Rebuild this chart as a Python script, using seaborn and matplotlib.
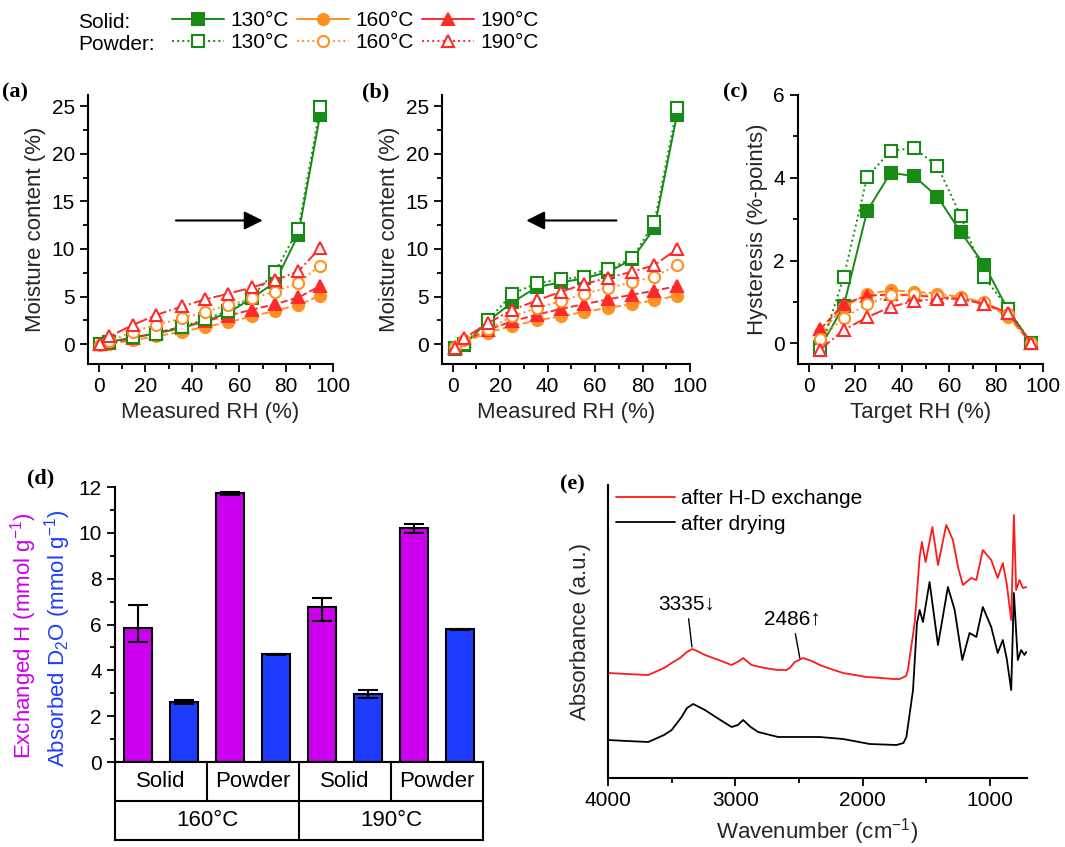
import matplotlib
matplotlib.use('Agg')
import matplotlib.pyplot as plt
from matplotlib.lines import Line2D
from matplotlib.ticker import MultipleLocator
import pandas as pd
import seaborn as sns

# (a) adsorption, measured RH (%) and moisture content (%)
rh_ads = [0.6, 4.6, 14.6, 24.5, 35.5, 45.5, 55.4, 65.3, 75.3, 85.2, 94.5]
ads_solid_130 = [0.0, 0.2, 0.7, 1.1, 1.7, 2.4, 3.3, 4.8, 6.5, 11.5, 24.1]
ads_solid_160 = [0.0, 0.0, 0.4, 0.8, 1.3, 1.8, 2.3, 2.9, 3.5, 4.1, 5.1]
ads_solid_190 = [0.0, 0.1, 0.6, 1.2, 1.8, 2.4, 3.0, 3.6, 4.2, 4.9, 6.1]
ads_powder_130 = [0.0, 0.2, 0.7, 1.1, 1.8, 2.6, 3.5, 5.0, 7.6, 12.1, 24.9]
ads_powder_160 = [-0.1, 0.3, 1.3, 2.0, 2.7, 3.4, 4.1, 4.8, 5.5, 6.45, 8.25]
ads_powder_190 = [0.0, 0.8, 2.0, 3.05, 3.95, 4.7, 5.3, 5.95, 6.7, 7.65, 10.1]

# (b) desorption
rh_des = [0.8, 4.8, 14.8, 25.2, 35.6, 45.6, 55.5, 65.6, 75.6, 85.0, 94.5]
des_solid_130 = [-0.5, -0.1, 2.4, 4.4, 6.0, 6.5, 6.9, 7.6, 8.9, 12.2, 24.1]
des_solid_160 = [-0.3, 0.2, 1.2, 1.9, 2.5, 2.9, 3.4, 3.8, 4.2, 4.6, 5.1]
des_solid_190 = [-0.3, 0.3, 1.5, 2.4, 3.1, 3.7, 4.2, 4.7, 5.2, 5.6, 6.1]
des_powder_130 = [-0.4, 0.0, 2.5, 5.3, 6.4, 6.8, 7.1, 7.9, 9.0, 12.8, 24.8]
des_powder_160 = [-0.3, 0.4, 1.6, 2.9, 3.8, 4.5, 5.3, 5.9, 6.5, 7.1, 8.3]
des_powder_190 = [-0.4, 0.6, 2.2, 3.6, 4.6, 5.5, 6.3, 7.0, 7.6, 8.3, 10.0]

# (c) hysteresis vs target RH
rh_target = [5, 15, 25, 35, 45, 55, 65, 75, 85, 95]
hys_solid_130 = [-0.1, 0.9, 3.2, 4.12, 4.04, 3.54, 2.68, 1.89, 0.82, 0.0]
hys_solid_160 = [0.25, 0.88, 1.19, 1.28, 1.25, 1.2, 1.12, 0.98, 0.64, 0.0]
hys_solid_190 = [0.34, 0.95, 1.15, 1.18, 1.16, 1.12, 1.07, 0.95, 0.75, 0.0]
hys_powder_130 = [-0.17, 1.6, 4.02, 4.65, 4.72, 4.28, 3.07, 1.6, 0.84, 0.0]
hys_powder_160 = [0.11, 0.62, 0.94, 1.16, 1.2, 1.15, 1.1, 1.0, 0.7, 0.0]
hys_powder_190 = [-0.15, 0.32, 0.63, 0.88, 1.02, 1.07, 1.08, 0.95, 0.74, 0.0]

# (d) H-D exchange
forms = ['Solid', 'Powder', 'Solid', 'Powder']
temps = ['160°C', '160°C', '190°C', '190°C']
exchanged_h = [5.86, 11.72, 6.75, 10.2]
exchanged_h_err_lo = [0.64, 0.05, 0.59, 0.2]
exchanged_h_err_hi = [1.0, 0.05, 0.42, 0.17]
absorbed_d2o = [2.62, 4.7, 2.97, 5.8]
absorbed_d2o_err = [0.08, 0.02, 0.16, 0.02]

# (e) FTIR spectra (arbitrary units)
wn_red = [4000, 3850, 3684, 3560, 3500, 3435, 3380, 3339, 3300, 3239, 3130, 3030, 2970, 2939,
          2873, 2808, 2720, 2664, 2600, 2573, 2533, 2468, 2400, 2337, 2250, 2154, 2060, 1971,
          1850, 1760, 1710, 1660, 1645, 1592, 1553, 1535, 1520, 1506, 1453, 1409, 1344, 1292,
          1250, 1213, 1148, 1108, 1057, 991, 940, 900, 870, 834, 813, 795, 769, 743, 715]
abs_red = [1.05, 1.04, 1.03, 1.10, 1.15, 1.20, 1.26, 1.29, 1.27, 1.23, 1.18, 1.13, 1.17, 1.20,
           1.13, 1.11, 1.09, 1.08, 1.08, 1.10, 1.16, 1.20, 1.17, 1.13, 1.09, 1.05, 1.03, 1.01,
           1.00, 0.99, 0.99, 1.02, 1.08, 1.55, 2.21, 2.36, 2.25, 2.16, 2.51, 2.13, 2.53, 2.38,
           2.10, 1.93, 2.00, 1.98, 2.28, 2.18, 2.00, 2.15, 1.95, 1.58, 2.63, 1.88, 1.98, 1.90, 1.91]
wn_black = [4000, 3850, 3684, 3560, 3500, 3422, 3380, 3331, 3239, 3130, 3030, 2980, 2939, 2880,
            2821, 2664, 2500, 2337, 2154, 1945, 1736, 1680, 1657, 1605, 1574, 1553, 1527, 1475,
            1409, 1331, 1278, 1218, 1161, 1108, 1057, 991, 940, 900, 870, 834, 813, 782, 756,
            730, 715]
abs_black = [0.38, 0.37, 0.36, 0.43, 0.48, 0.61, 0.70, 0.74, 0.68, 0.59, 0.51, 0.53, 0.58, 0.51,
             0.46, 0.41, 0.41, 0.41, 0.39, 0.34, 0.33, 0.35, 0.41, 0.88, 1.55, 1.68, 1.56, 1.96,
             1.33, 1.91, 1.68, 1.18, 1.45, 1.41, 1.71, 1.51, 1.25, 1.38, 1.20, 0.88, 1.85, 1.18,
             1.28, 1.23, 1.26]

green = '#178a17'
orange = '#ff9124'
red = '#ff2a2a'
magenta = '#cc00ee'
blue = '#1e3cff'

sns.set_theme(style='ticks')
plt.rcParams['font.family'] = ['Liberation Sans', 'DejaVu Sans']
plt.rcParams['mathtext.fontset'] = 'custom'
plt.rcParams['mathtext.rm'] = 'Liberation Sans'
plt.rcParams['mathtext.it'] = 'Liberation Sans:italic'
plt.rcParams['axes.linewidth'] = 1.5
plt.rcParams['axes.edgecolor'] = 'black'
plt.rcParams['text.color'] = 'black'
plt.rcParams['xtick.color'] = 'black'
plt.rcParams['ytick.color'] = 'black'

W, H = 1065, 847
fig = plt.figure(figsize=(W / 100, H / 100), dpi=100)


def px_axes(left, top, right, bottom):
    return fig.add_axes([left / W, 1 - bottom / H, (right - left) / W, (bottom - top) / H])


# style for each (form, temperature)
styles = {
    ('Solid', '130'): dict(color=green, marker='s', ls='-', filled=True),
    ('Solid', '160'): dict(color=orange, marker='o', ls='--', filled=True),
    ('Solid', '190'): dict(color=red, marker='^', ls='--', filled=True),
    ('Powder', '130'): dict(color=green, marker='s', ls=':', filled=False),
    ('Powder', '160'): dict(color=orange, marker='o', ls=':', filled=False),
    ('Powder', '190'): dict(color=red, marker='^', ls='-.', filled=False),
}


def draw_series(ax, x, y, key):
    st = styles[key]
    sns.lineplot(x=x, y=y, ax=ax, sort=False, legend=False, color=st['color'],
                 linestyle=st['ls'], linewidth=1.4, marker=st['marker'], markersize=8,
                 markerfacecolor=st['color'] if st['filled'] else 'white',
                 markeredgecolor=st['color'], markeredgewidth=1.5)


def style_axes(ax, xlim, ylim, xmaj, xmin, ymaj, ymin):
    ax.set_xlim(xlim)
    ax.set_ylim(ylim)
    ax.xaxis.set_major_locator(MultipleLocator(xmaj))
    ax.xaxis.set_minor_locator(MultipleLocator(xmin))
    ax.yaxis.set_major_locator(MultipleLocator(ymaj))
    ax.yaxis.set_minor_locator(MultipleLocator(ymin))
    ax.tick_params(which='major', direction='out', length=6, width=1.3, labelsize=15)
    ax.tick_params(which='minor', direction='out', length=3.5, width=1.3)
    sns.despine(ax=ax)


# panels a, b, c
ax_a = px_axes(88, 95, 333, 364)
ax_b = px_axes(442, 95, 690, 364)
ax_c = px_axes(798, 95, 1043, 364)

iso_a = {('Solid', '130'): ads_solid_130, ('Solid', '160'): ads_solid_160, ('Solid', '190'): ads_solid_190,
         ('Powder', '130'): ads_powder_130, ('Powder', '160'): ads_powder_160, ('Powder', '190'): ads_powder_190}
iso_b = {('Solid', '130'): des_solid_130, ('Solid', '160'): des_solid_160, ('Solid', '190'): des_solid_190,
         ('Powder', '130'): des_powder_130, ('Powder', '160'): des_powder_160, ('Powder', '190'): des_powder_190}
iso_c = {('Solid', '130'): hys_solid_130, ('Solid', '160'): hys_solid_160, ('Solid', '190'): hys_solid_190,
         ('Powder', '130'): hys_powder_130, ('Powder', '160'): hys_powder_160, ('Powder', '190'): hys_powder_190}

for key, y in iso_a.items():
    draw_series(ax_a, rh_ads, y, key)
for key, y in iso_b.items():
    draw_series(ax_b, rh_des, y, key)
for key, y in iso_c.items():
    draw_series(ax_c, rh_target, y, key)

for ax in (ax_a, ax_b):
    style_axes(ax, (-4.5, 100), (-2.1, 26.2), 20, 10, 5, 2.5)
    ax.set_xlabel('Measured RH (%)', fontsize=16)
    ax.set_ylabel('Moisture content (%)', fontsize=16)
style_axes(ax_c, (-4.5, 100), (-0.5, 6.0), 20, 10, 2, 1)
ax_c.set_xlabel('Target RH (%)', fontsize=16)
ax_c.set_ylabel('Hysteresis (%-points)', fontsize=16)

arrow = dict(arrowstyle='-|>', mutation_scale=28, color='black', lw=1.5, shrinkA=0, shrinkB=0)
ax_a.annotate('', xy=(70, 13), xytext=(33, 13), arrowprops=arrow)
ax_b.annotate('', xy=(31, 13), xytext=(69, 13), arrowprops=arrow)

# top legend
handles = []
labels = []
for temp in ['130', '160', '190']:
    for form in ['Solid', 'Powder']:
        st = styles[(form, temp)]
        handles.append(Line2D([], [], color=st['color'], ls='-' if form == 'Solid' else ':', lw=1.4,
                              marker=st['marker'], markersize=8, markeredgewidth=1.5,
                              markerfacecolor=st['color'] if form == 'Solid' else 'white',
                              markeredgecolor=st['color']))
        labels.append(temp + '°C')
fig.legend(handles, labels, ncol=3, loc='upper left', bbox_to_anchor=(172 / W, 1 - 11 / H),
           frameon=False, fontsize=15, handlelength=2.5, handletextpad=0.3, columnspacing=0.4,
           labelspacing=0.15, borderpad=0, borderaxespad=0)
fig.text(78 / W, 1 - 23 / H, 'Solid:', fontsize=15, va='center')
fig.text(78 / W, 1 - 45 / H, 'Powder:', fontsize=15, va='center')

# panel d: bars with category table underneath
ax_d = px_axes(115, 487, 483, 762)
bar_names, bar_vals, bar_cols, err_lo, err_hi = [], [], [], [], []
for i in range(len(forms)):
    bar_names += [f'H {i}', f'D2O {i}']
    bar_vals += [exchanged_h[i], absorbed_d2o[i]]
    bar_cols += [magenta, blue]
    err_lo += [exchanged_h_err_lo[i], absorbed_d2o_err[i]]
    err_hi += [exchanged_h_err_hi[i], absorbed_d2o_err[i]]
bars = pd.DataFrame({'bar': bar_names, 'value': bar_vals})
sns.barplot(data=bars, x='bar', y='value', hue='bar', palette=bar_cols, legend=False,
            width=0.63, edgecolor='black', linewidth=1.5, saturation=1, ax=ax_d)
bar_x = [p.get_x() + p.get_width() / 2 for p in ax_d.patches]
ax_d.errorbar(bar_x, bar_vals, yerr=[err_lo, err_hi], fmt='none', ecolor='black',
              elinewidth=1.5, capsize=7, capthick=1.5)
ax_d.set_xlim(-0.5, len(bar_names) - 0.5)
ax_d.set_ylim(0, 12)
ax_d.set_xticks([])
ax_d.set_xlabel('')
ax_d.set_ylabel('')
ax_d.yaxis.set_major_locator(MultipleLocator(2))
ax_d.yaxis.set_minor_locator(MultipleLocator(1))
ax_d.tick_params(which='major', direction='out', length=6, width=1.3, labelsize=15)
ax_d.tick_params(which='minor', direction='out', length=3.5, width=1.3)
sns.despine(ax=ax_d)
fig.text(24 / W, 1 - 636 / H, 'Exchanged H (mmol g$^{-1}$)', color=magenta, fontsize=16,
         rotation=90, ha='center', va='center')
fig.text(58 / W, 1 - 638 / H, 'Absorbed D$_2$O (mmol g$^{-1}$)', color=blue, fontsize=16,
         rotation=90, ha='center', va='center')

tab = px_axes(115, 762, 483, 840)
tab.set_xlim(ax_d.get_xlim())
tab.set_ylim(0, 2)
tab.set_xticks([])
tab.set_yticks([])
for s in tab.spines.values():
    s.set_linewidth(1.5)
    s.set_color('black')
tab.axhline(1, color='black', lw=1.5)
pair_centers = [(bar_x[2 * i] + bar_x[2 * i + 1]) / 2 for i in range(len(forms))]
tab.vlines([1.5, 5.5], 1, 2, color='black', lw=1.5)
tab.vlines([3.5], 0, 2, color='black', lw=1.5)
for cx, f in zip(pair_centers, forms):
    tab.text(cx, 1.5, f, ha='center', va='center', fontsize=16)
for t in sorted(set(temps)):
    idx = [i for i, tt in enumerate(temps) if tt == t]
    tab.text(sum(pair_centers[i] for i in idx) / len(idx), 0.5, t, ha='center', va='center', fontsize=16)

# panel e: spectra
ax_e = px_axes(608, 485, 1027, 778)
sns.lineplot(x=wn_red, y=abs_red, sort=False, estimator=None, color='#ff1a1a', lw=1.3,
             label='after H-D exchange', ax=ax_e)
sns.lineplot(x=wn_black, y=abs_black, sort=False, estimator=None, color='black', lw=1.3,
             label='after drying', ax=ax_e)
ax_e.set_xlim(4000, 710)
ax_e.set_ylim(0, 2.93)
ax_e.set_yticks([])
ax_e.xaxis.set_major_locator(MultipleLocator(1000))
ax_e.xaxis.set_minor_locator(MultipleLocator(500))
ax_e.tick_params(which='major', direction='out', length=6, width=1.3, labelsize=15)
ax_e.tick_params(which='minor', direction='out', length=3.5, width=1.3)
sns.despine(ax=ax_e)
ax_e.set_xlabel('Wavenumber (cm$^{-1}$)', fontsize=16)
ax_e.set_ylabel('Absorbance (a.u.)', fontsize=16, labelpad=12)
ax_e.legend(loc='upper left', bbox_to_anchor=(0.02, 0.985), frameon=False, fontsize=15,
            handlelength=2.8, handletextpad=0.3, labelspacing=0.3, borderpad=0, borderaxespad=0)
lead = dict(arrowstyle='-', color='black', lw=1, shrinkA=1, shrinkB=0)
ax_e.annotate('3335↓', xy=(3341, 1.31), xytext=(3380, 1.64), ha='center', va='bottom',
              fontsize=15, arrowprops=lead)
ax_e.annotate('2486↑', xy=(2494, 1.20), xytext=(2549, 1.49), ha='center', va='bottom',
              fontsize=15, arrowprops=lead)

# panel letters
for x, y, s in [(2, 92, '(a)'), (362, 92, '(b)'), (723, 92, '(c)'), (27, 478, '(d)'), (560, 484, '(e)')]:
    fig.text(x / W, 1 - y / H, s, fontsize=16, fontweight='bold', family='Liberation Serif', va='center')

fig.savefig('out.png', dpi=100)
